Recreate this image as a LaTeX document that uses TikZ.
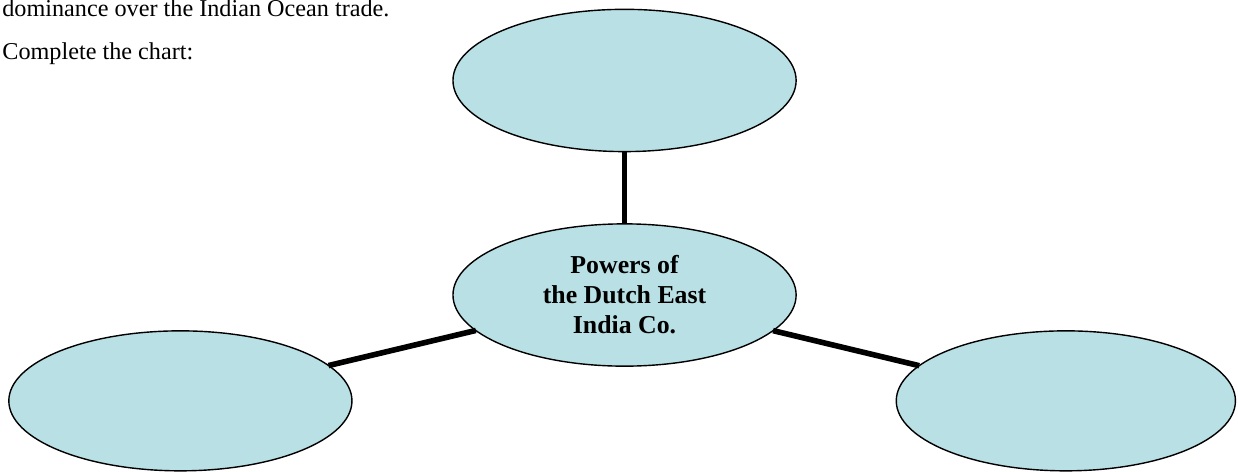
\documentclass[tikz,border=0pt]{standalone}
\usepackage{fontspec}
\setmainfont{Liberation Serif}
\usetikzlibrary{shapes.geometric,positioning}
\definecolor{bubblefill}{RGB}{185,224,228}

\begin{document}
\begin{tikzpicture} [{bubble/.style={ellipse,draw=black,fill=bubblefill,line width=0.7pt,minimum width=6.03cm,minimum height=2.5cm,inner sep=0mm,outer sep=0mm}},{link/.style={color=black,line width=2.8pt}},{note/.style={anchor=base west,inner sep=0mm,font=\fontsize{12.1}{14}\selectfont}}]
	%%page frame
	\useasboundingbox (0,0) rectangle (21.755,8.294);
	%%coordinates of ellipse centres
	\coordinate (T) at (10.975,6.88);
	\coordinate (M) at (10.975,3.11);
	\coordinate (L) at (3.17,1.25);
	\coordinate (R) at (18.73,1.25);
	%%instructions
	\node [note] (intro) at (0.035,7.996) {dominance over the Indian Ocean trade.};
	\node [note] (task) at (0.035,7.24) {Complete the chart:};
	%%ellipses
	\node [bubble] (top) at (T) {};
	\node [bubble,align=center,font=\bfseries\fontsize{12.9}{15}\selectfont] (mid) at (M) {Powers of\\the Dutch East\\India Co.};
	\node [bubble,minimum height=2.46cm] (left) at (L) {};
	\node [bubble,minimum width=5.96cm,minimum height=2.46cm] (right) at (R) {};
	%%connectors
	\draw [link] (mid) -- (top);
	\draw [link] (mid) -- (left);
	\draw [link] (mid) -- (right);
\end{tikzpicture}
\end{document}
